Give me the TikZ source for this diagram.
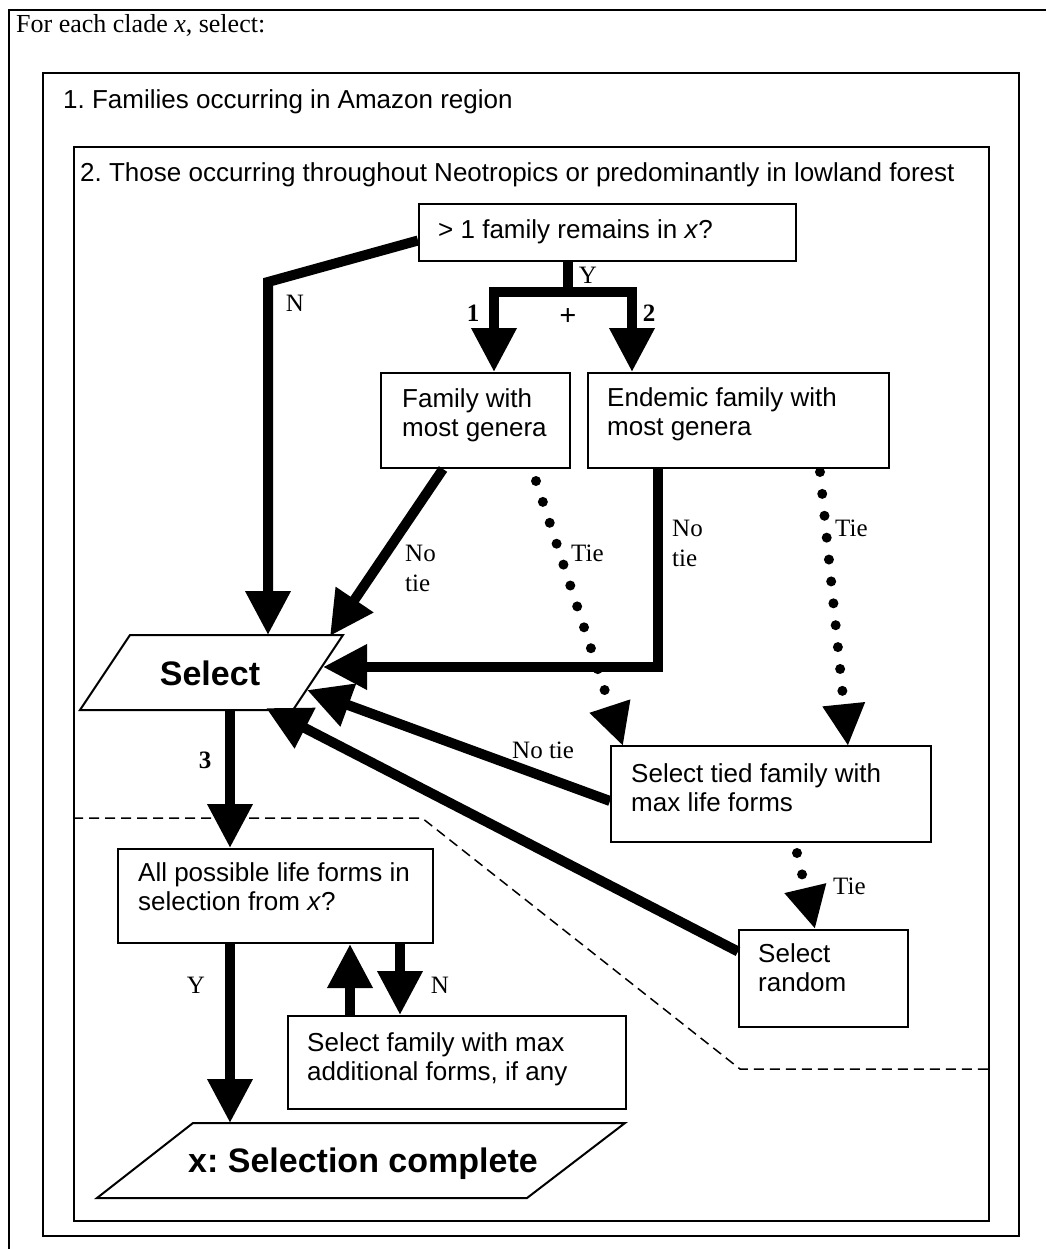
\documentclass[tikz,border=0pt]{standalone}
\usepackage{fontspec}
\setmainfont{Liberation Serif}
\setsansfont{Liberation Sans}
\usetikzlibrary{arrows.meta,calc}
\frenchspacing
\begin{document}
\begin{tikzpicture}[x=1pt,y=-1pt,
  box/.style={draw,line width=2pt,rectangle,inner sep=0pt,anchor=north west},
  txt/.style={font=\sffamily\fontsize{26}{29}\selectfont,inner sep=0pt,anchor=base west,align=left},
  lbl/.style={font=\rmfamily\fontsize{25}{30}\selectfont,inner sep=0pt,anchor=base west,align=left},
  blbl/.style={font=\rmfamily\bfseries\fontsize{25}{30}\selectfont,inner sep=0pt,anchor=center},
  bigarr/.style={line width=10pt,line join=miter,-{Triangle[length=44pt,width=43pt]}},
  bigline/.style={line width=10pt},
  dotarr/.style={line width=10pt,line cap=round,dash pattern=on 0pt off 22pt,-{Triangle[length=42pt,width=40pt]}},
  sepline/.style={line width=1.5pt,dash pattern=on 10pt off 6pt},
  para/.style={draw,line width=2pt,line join=miter}]
\useasboundingbox (0,0) rectangle (1046,1249);
\fill[white] (0,0) rectangle (1046,1249);
% outer frame
\draw[line width=2pt] (1046,10) -- (9,10) -- (9,1249);
\node[lbl,font=\rmfamily\fontsize{26}{30}\selectfont] (hdr) at (16,33) {For each clade \textit{x}, select:};
% frames
\node[box,minimum width=976pt,minimum height=1163pt] (b1) at (42,72) {};
\node[txt] (t1) at (63,109) {1. Families occurring in Amazon region};
\node[box,minimum width=915pt,minimum height=1074pt] (b2) at (73,146) {};
\node[txt] (t2) at (80,182) {2. Those occurring throughout Neotropics or predominantly in lowland forest};
% boxes (base anchor = last line)
\node[box,minimum width=377pt,minimum height=57pt] (top) at (418,203) {};
\node[txt] at (438,239) {> 1 family remains in \textit{x}?};
\node[box,minimum width=189pt,minimum height=95pt] (fam) at (380,372) {};
\node[txt] at (402,436) {Family with\\most genera};
\node[box,minimum width=301pt,minimum height=95pt] (end) at (587,372) {};
\node[txt] at (607,435) {Endemic family with\\most genera};
\node[box,minimum width=320pt,minimum height=96pt] (tied) at (610,745) {};
\node[txt] at (631,811) {Select tied family with\\max life forms};
\node[box,minimum width=169pt,minimum height=97pt] (rand) at (738,929) {};
\node[txt] at (758,991) {Select\\random};
\node[box,minimum width=315pt,minimum height=94pt] (all) at (117,848) {};
\node[txt] at (138,910) {All possible life forms in\\selection from \textit{x}?};
\node[box,minimum width=338pt,minimum height=93pt] (sfam) at (287,1015) {};
\node[txt] at (307,1080) {Select family with max\\additional forms, if any};
% parallelograms
\draw[para] (130,635) -- (343,635) -- (293,710) -- (80,710) -- cycle;
\node[font=\sffamily\bfseries\fontsize{34}{40}\selectfont,inner sep=0pt,anchor=base] (sel) at (210,685) {Select};
\draw[para] (193,1123) -- (625,1123) -- (527,1198) -- (97,1198) -- cycle;
\node[font=\sffamily\bfseries\fontsize{34}{40}\selectfont,inner sep=0pt,anchor=base] (done) at (363,1172) {x: Selection complete};
% dashed separator
\draw[sepline] (b2.west |- 0,818) -- (422,818) -- (740,1069) -- (b2.east |- 0,1069);
% coordinates on shapes
\coordinate (sN) at (268,635);
\coordinate (sFam) at (330,636);
\coordinate (sEnd) at (323,667);
\coordinate (sTied) at (307,690);
\coordinate (sRand) at (266,708);
\coordinate (sOut) at (230,710);
\coordinate (dTop) at (230,1123);
\coordinate (nk) at (268,282);
\coordinate (yb) at (568,292);
\coordinate (ya) at (494,292);
\coordinate (yc) at (632,292);
% connectors
\draw[bigarr] ($(top.west)+(0,8)$) -- (nk) -- (sN);
\draw[bigline] (top.south -| yb) -- (yb);
\draw[bigarr] (yb) -- (ya) -- (ya |- fam.north);
\draw[bigarr] (yb) -- (yc) -- (yc |- end.north);
\draw[bigarr] ($(fam.south west)+(63,0)$) -- (sFam);
\draw[dotarr] ($(fam.south west)+(156,12)$) -- ($(tied.north west)+(13,1)$);
\draw[bigarr] ($(end.south west)+(71,0)$) |- (sEnd);
\draw[dotarr] ($(end.south west)+(233,3)$) -- ($(tied.north west)+(238,1)$);
\draw[bigarr] ($(tied.west)+(0,7)$) -- (sTied);
\draw[bigarr] ($(rand.west)+(0,-27)$) -- (sRand);
\draw[dotarr] ($(tied.south west)+(187,10)$) -- ($(rand.north west)+(77,0)$);
\draw[bigarr] (sOut) -- (sOut |- all.north);
\draw[bigarr] (all.south -| sOut) -- (dTop);
\draw[bigarr] ($(sfam.north west)+(63,0)$) -- ($(all.south west)+(233,0)$);
\draw[bigarr] ($(all.south west)+(283,0)$) -- ($(sfam.north west)+(113,0)$);
% labels
\node[lbl,anchor=center] at (295,303) {N};
\node[lbl,anchor=center] at (588,275) {Y};
\node[blbl] at (473,313) {1};
\node[blbl,font=\rmfamily\bfseries\fontsize{30}{30}\selectfont] at (568,317) {+};
\node[blbl] at (649,313) {2};
\node[lbl] at (405,591) {No\\tie};
\node[lbl] at (571,561) {Tie};
\node[lbl] at (672,566) {No\\tie};
\node[lbl] at (835,536) {Tie};
\node[lbl] at (512,758) {No tie};
\node[lbl] at (833,894) {Tie};
\node[blbl] at (205,760) {3};
\node[lbl,anchor=center] at (196,985) {Y};
\node[lbl,anchor=center] at (440,985) {N};
\end{tikzpicture}
\end{document}
